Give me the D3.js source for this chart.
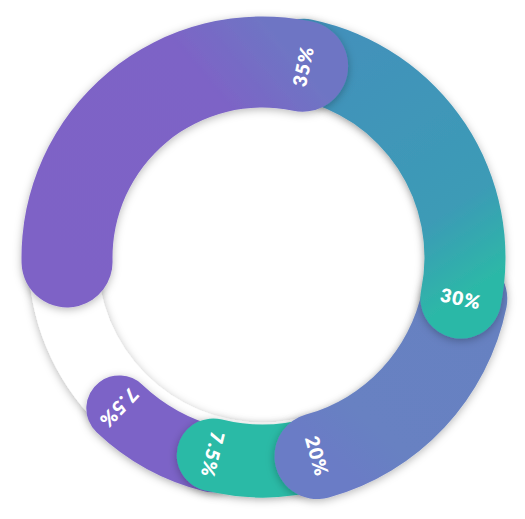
<!DOCTYPE html>
<html>
<head>
<meta charset="utf-8">
<script src="https://cdn.jsdelivr.net/npm/d3@7"></script>
<style>
  html, body { margin: 0; padding: 0; background: #ffffff; }
  svg { display: block; }
</style>
</head>
<body>
<svg id="donut" width="525" height="519"></svg>
<script>
// chart data
let shares = [35, 30, 20, 7.5, 7.5];
let shareLabels = ["35%", "30%", "20%", "7.5%", "7.5%"];

// look of each piece (kept apart from the data)
let innerRadii = [150, 162, 163, 167, 175];
let outerRadii = [241, 243, 249, 240, 241];
let gradientStops = [
    ["#7e62c6", "#7d63c6", "#6e75c4"],
    ["#4391bb", "#3c9bb6", "#2cb8a7"],
    ["#6681c1", "#6781c2", "#6b7bc6"],
    ["#2bbaa6", "#2bbaa6", "#2bbaa6"],
    ["#7b63c7", "#7b63c7", "#7b63c7"]
];
let stopOffsets = [0, 0.72, 1];

let svgEl = d3.select("svg#donut");
let center = { "x": 262.5, "y": 257.5 };
let deg = Math.PI / 180;

let defs = svgEl.append("defs");
let shadow = defs.append("filter")
    .attr("id", "softShadow")
    .attr("x", "-20%").attr("y", "-20%")
    .attr("width", "140%").attr("height", "140%");
shadow.append("feDropShadow")
    .attr("dx", 0).attr("dy", 2)
    .attr("stdDeviation", 4.5)
    .attr("flood-color", "#000000")
    .attr("flood-opacity", 0.28);

let chart = svgEl.append("g")
    .attr("transform", "translate(" + center.x + "," + center.y + ")");

// white track behind the pieces
chart.append("path")
    .attr("d", d3.arc().innerRadius(165).outerRadius(234).startAngle(0).endAngle(2 * Math.PI)())
    .attr("fill", "#ffffff")
    .attr("filter", "url(#softShadow)");

// pie angles mark the centres of the rounded ends
let pie = d3.pie().sort(null).value(d => d)
    .startAngle(-91.3 * deg)
    .endAngle(223.5 * deg)
    .padAngle(9.4 * deg);
let slices = pie(shares);

slices.forEach(function (s, i) {
    let r0 = innerRadii[i];
    let r1 = outerRadii[i];
    s.r0 = r0;
    s.r1 = r1;
    s.rMid = (r0 + r1) / 2;
    s.cap = Math.asin(((r1 - r0) / 2) / s.rMid);
    s.label = shareLabels[i];
    s.idx = i;
});

function pointAt(angle, r) {
    return [Math.sin(angle) * r, -Math.cos(angle) * r];
}

slices.forEach(function (s, i) {
    let p0 = pointAt(s.startAngle, s.rMid);
    let p1 = pointAt(s.endAngle, s.rMid);
    let grad = defs.append("linearGradient")
        .attr("id", "grad" + i)
        .attr("gradientUnits", "userSpaceOnUse")
        .attr("x1", p0[0]).attr("y1", p0[1])
        .attr("x2", p1[0]).attr("y2", p1[1]);
    stopOffsets.forEach(function (off, k) {
        grad.append("stop").attr("offset", off).attr("stop-color", gradientStops[i][k]);
    });
});

// last piece first, so each rounded end sits on top of the next one
let drawOrder = slices.slice().reverse();

let pieces = chart.selectAll("g.piece")
    .data(drawOrder)
    .enter()
    .append("g")
    .attr("class", "piece");

pieces.append("path")
    .attr("d", function (s) {
        return d3.arc()
            .innerRadius(s.r0)
            .outerRadius(s.r1)
            .cornerRadius((s.r1 - s.r0) / 2)
            .startAngle(s.startAngle - s.cap)
            .endAngle(s.endAngle + s.cap)();
    })
    .attr("fill", s => "url(#grad" + s.idx + ")")
    .attr("filter", "url(#softShadow)");

pieces.append("text")
    .attr("transform", function (s) {
        let p = pointAt(s.endAngle, s.rMid);
        return "translate(" + p[0] + "," + p[1] + ")rotate(" + (s.endAngle / deg - 90) + ")";
    })
    .attr("text-anchor", "middle")
    .attr("dominant-baseline", "central")
    .style("font-family", "Lato, 'Open Sans', sans-serif")
    .style("font-weight", "800")
    .style("font-size", "19px")
    .style("letter-spacing", "1px")
    .attr("fill", "#ffffff")
    .text(s => s.label);
</script>
</body>
</html>
